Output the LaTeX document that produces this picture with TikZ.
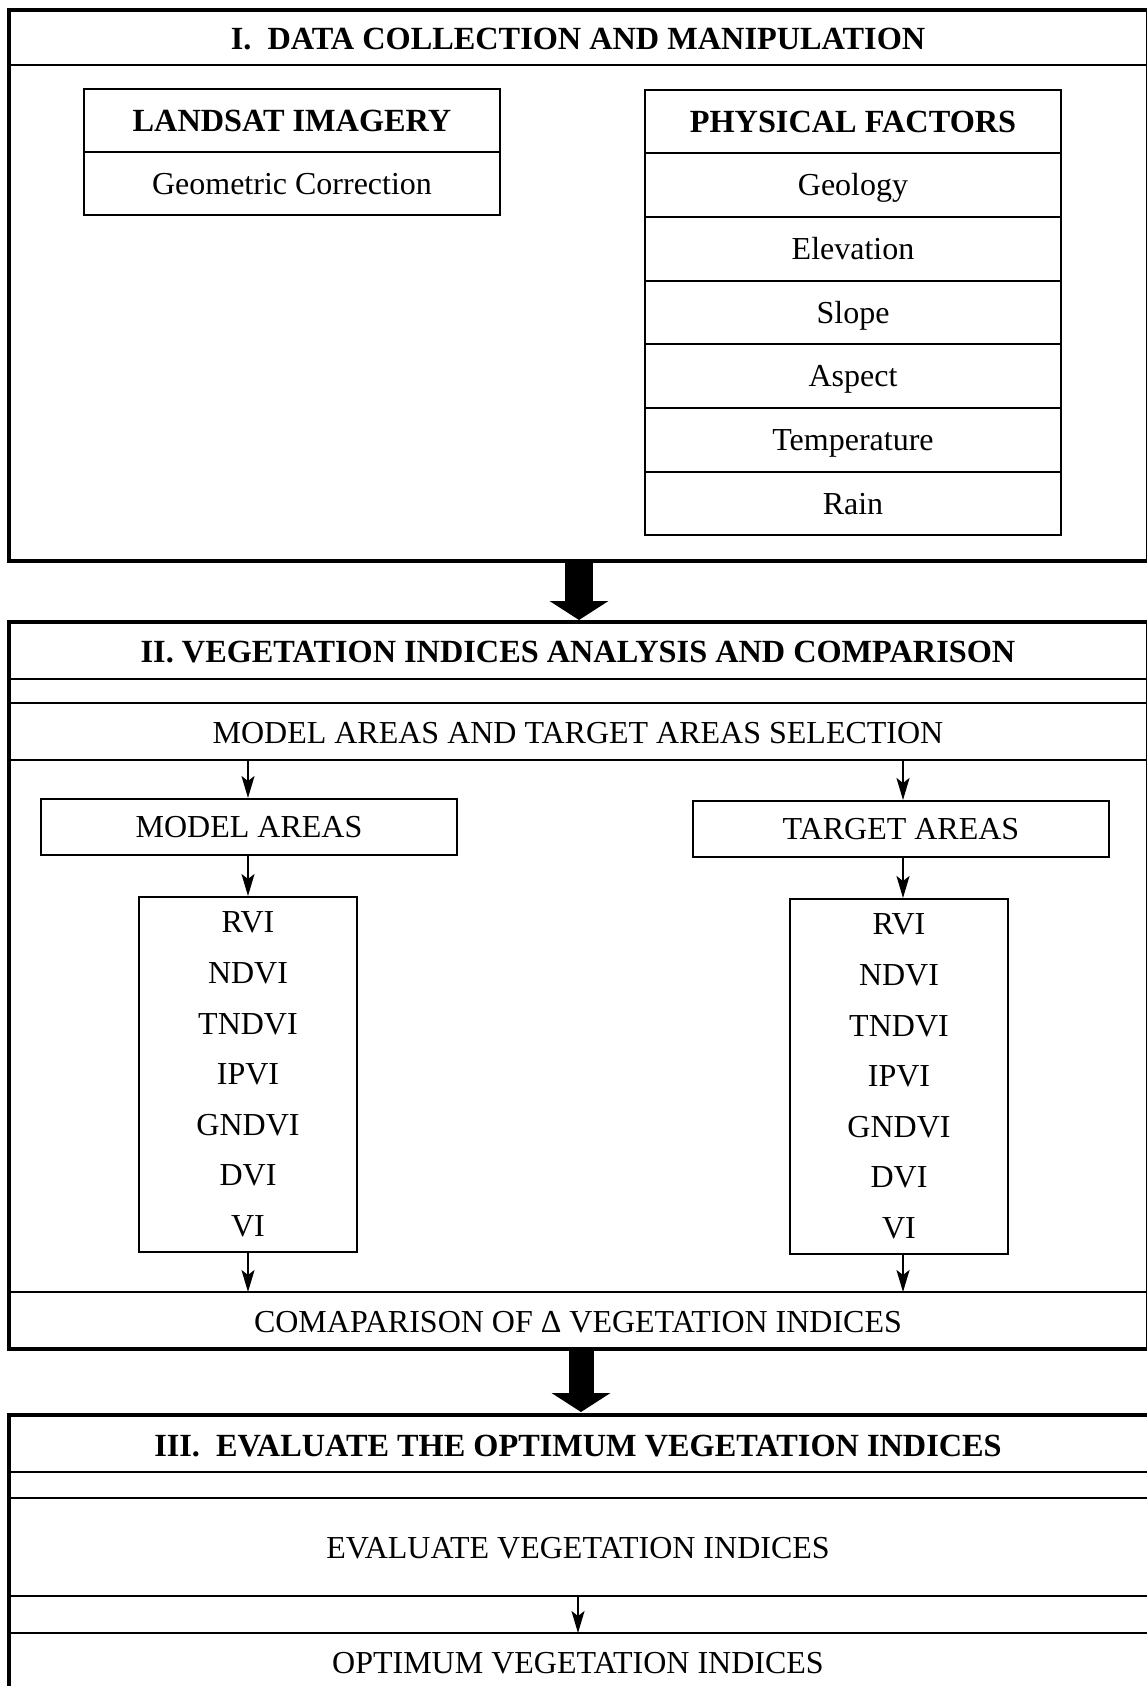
\documentclass[tikz,border=0pt]{standalone}
\usepackage{fontspec}
\setmainfont{Liberation Serif}
\usetikzlibrary{arrows.meta}
\newcommand\fsz{\fontsize{32}{38}\selectfont}
\newcommand\bfsz{\fontsize{32.3}{38}\selectfont}
\tikzset{
  secline/.style={line width=4pt},
  bandline/.style={line width=2pt},
  boxnode/.style={draw, line width=2pt, inner sep=0pt},
  txt/.style={font=\fsz, text height=21pt, text depth=0pt, inner sep=0pt},
  btxt/.style={txt, font=\bfsz\bfseries},
  idx/.style={boxnode, minimum width=218pt, minimum height=355pt, align=center,
      font=\fontsize{32}{50.6}\selectfont},
  arr/.style={line width=2pt, -{Stealth[length=22pt,width=13pt,inset=5pt]}},
  bigarr/.style={line width=#1, -{Triangle[length=19pt,width=58pt]}},
}
\begin{document}
\begin{tikzpicture}[x=1pt,y=-1pt]
\useasboundingbox (0,0) rectangle (1147,1686);
\fill[white] (0,0) rectangle (1147,1686);

% ---------- Section I ----------
\draw[secline] (1148,10) -- (8.5,10) -- (8.5,560.5) -- (1148,560.5) -- cycle;
\draw[bandline] (8.5,65.5) -- (1148,65.5);
\node[btxt] (t1) at (578,39) {I.\ \ DATA COLLECTION AND MANIPULATION};

\node[boxnode, minimum width=416pt, minimum height=63pt] (lsh) at (292,120.5) {};
\node[boxnode, minimum width=416pt, minimum height=63pt] (lsb) at (292,183.5) {};
\node[btxt] (lst) at (lsh) {LANDSAT IMAGERY};
\node[txt] (lsg) at (lsb) {Geometric Correction};

\foreach \nm/\yy/\lab/\sty in {pf0/121.5/PHYSICAL FACTORS/btxt, pf1/185/Geology/txt, pf2/248.8/Elevation/txt, pf3/312.5/Slope/txt, pf4/376/Aspect/txt, pf5/440/Temperature/txt, pf6/503.5/Rain/txt}{
  \node[boxnode, minimum width=416pt, minimum height=63.5pt] (\nm) at (853,\yy) {};
  \node[\sty] (\nm t) at (\nm) {\lab};
}

% big arrow 1
\coordinate (b1s) at (579,562.5);
\coordinate (b1e) at (579,620);
\draw[bigarr=28pt] (b1s) -- (b1e);

% ---------- Section II ----------
\draw[secline] (1148,621.5) -- (8.5,621.5) -- (8.5,1348.5) -- (1148,1348.5) -- cycle;
\draw[bandline] (8.5,679) -- (1148,679);
\draw[bandline] (8.5,703) -- (1148,703);
\draw[bandline] (8.5,759.5) -- (1148,759.5);
\draw[bandline] (8.5,1292) -- (1148,1292);
\node[btxt] (t2) at (578,652) {II. VEGETATION INDICES ANALYSIS AND COMPARISON};
\node[txt] (sel) at (578,733) {MODEL AREAS AND TARGET AREAS SELECTION};
\node[txt] (cmp) at (578,1322) {COMAPARISON OF Δ VEGETATION INDICES};

\coordinate (s1) at (248,759.5);
\coordinate (s2) at (903,759.5);
\coordinate (c1) at (248,1292);
\coordinate (c2) at (903,1292);

\node[boxnode, minimum width=416pt, minimum height=56pt] (ma) at (249,827) {};
\node[txt] (mat) at (ma) {MODEL AREAS};
\node[boxnode, minimum width=416pt, minimum height=56pt] (ta) at (901,829) {};
\node[txt] (tat) at (ta) {TARGET AREAS};

\node[idx] (mi) at (248,1074.5) {RVI\\NDVI\\TNDVI\\IPVI\\GNDVI\\DVI\\VI};
\node[idx] (ti) at (899,1076.5) {RVI\\NDVI\\TNDVI\\IPVI\\GNDVI\\DVI\\VI};

\draw[arr] (s1) -- (s1 |- ma.north);
\draw[arr] (s2) -- (s2 |- ta.north);
\draw[arr] (ma.south -| s1) -- (s1 |- mi.north);
\draw[arr] (ta.south -| s2) -- (s2 |- ti.north);
\draw[arr] (mi.south -| c1) -- (c1);
\draw[arr] (ti.south -| c2) -- (c2);

% big arrow 2
\coordinate (b2s) at (581,1350.5);
\coordinate (b2e) at (581,1412);
\draw[bigarr=25pt] (b2s) -- (b2e);

% ---------- Section III ----------
\draw[secline] (1148,1415) -- (8.5,1415) -- (8.5,1700);
\draw[bandline] (8.5,1472) -- (1148,1472);
\draw[bandline] (8.5,1498) -- (1148,1498);
\draw[bandline] (8.5,1596) -- (1148,1596);
\draw[bandline] (8.5,1633) -- (1148,1633);
\node[btxt] (t3) at (578,1446) {III.\ \ EVALUATE THE OPTIMUM VEGETATION INDICES};
\node[txt] (ev) at (578,1548) {EVALUATE VEGETATION INDICES};
\node[txt] (op) at (578,1663) {OPTIMUM VEGETATION INDICES};
\coordinate (e1) at (578,1596);
\coordinate (e2) at (578,1633);
\draw[arr] (e1) -- (e2);
\end{tikzpicture}
\end{document}
